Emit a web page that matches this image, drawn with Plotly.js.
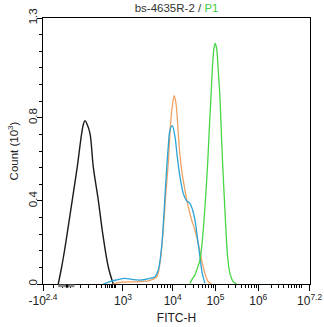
<!DOCTYPE html>
<html>
<head>
<meta charset="utf-8">
<script src="https://cdn.plot.ly/plotly-3.0.1.min.js"></script>
<style>html,body{margin:0;padding:0;background:#fff;}#chart{width:324px;height:327px;}</style>
</head>
<body>
<div id="chart"></div>
<script>
// x in display-decade units of the FITC-H axis, y in Count (10^3)
const blackX = [1.327,1.407,1.472,1.537,1.654,1.771,1.874,1.916,1.951,1.998,2.068,2.145,2.262,2.364,2.495,2.612];
const blackY = [0,0.083,0.16,0.245,0.404,0.564,0.725,0.77,0.786,0.77,0.725,0.564,0.404,0.245,0.083,0];

const blueX = [2.379,2.535,2.699,2.886,3.049,3.236,3.423,3.586,3.664,3.743,3.797,3.843,3.897,3.937,3.991,4.054,4.107,4.171,4.248,4.327,4.404,4.467,4.521,4.575,4.638,4.692,4.755];
const blueY = [0,0.012,0.02,0.027,0.022,0.019,0.025,0.035,0.067,0.18,0.34,0.50,0.66,0.74,0.762,0.709,0.613,0.516,0.436,0.40,0.388,0.356,0.308,0.228,0.131,0.051,0.003];

const orangeX = [2.605,2.769,3.002,3.236,3.470,3.626,3.703,3.780,3.836,3.897,3.953,3.991,4.037,4.077,4.117,4.154,4.210,4.287,4.364,4.444,4.521,4.598,4.678,4.755,4.832,4.911];
const orangeY = [0,0.008,0.01,0.011,0.018,0.035,0.10,0.26,0.42,0.58,0.773,0.853,0.906,0.87,0.773,0.66,0.549,0.452,0.372,0.308,0.26,0.196,0.115,0.051,0.011,0];

const greenX = [4.404,4.467,4.521,4.575,4.638,4.715,4.771,4.818,4.855,4.895,4.935,4.965,4.995,5.028,5.065,5.105,5.136,5.168,5.206,5.245,5.285,5.339,5.416,5.495];
const greenY = [0.003,0.027,0.043,0.075,0.115,0.26,0.42,0.58,0.74,0.90,1.06,1.133,1.158,1.133,1.03,0.90,0.74,0.58,0.42,0.26,0.131,0.051,0.011,0];

const xTickVals = [0.97,2.839,4,5,6,7.2];
const xTickText = ['-10<sup>2.4</sup>','10<sup>3</sup>','10<sup>4</sup>','10<sup>5</sup>','10<sup>6</sup>','10<sup>7.2</sup>'];
const yTickVals = [0,0.4,0.8,1.28];
const yTickText = ['0','0.4','0.8','1.3'];

// minor tick positions (axis decoration)
const minorX = [1.205,1.425,1.61,1.84,2.04,2.23,2.345,2.43,2.48,2.53,2.565,2.6,2.63,2.655];
for (let k=2;k<=9;k++) minorX.push(2.839 + 1.161*Math.log10(k));
for (let d=4; d<=6; d++) for (let k=2;k<=9;k++) minorX.push(d + Math.log10(k));
minorX.push(7);

const line = (x,y,c,w)=>({x:x,y:y,type:'scatter',mode:'lines',line:{color:c,width:w,shape:'spline',smoothing:1},hoverinfo:'skip'});

const data = [
  line(blackX,blackY,'#1a1a1a',1.4),
  line(orangeX,orangeY,'#f0a263',1.3),
  line(blueX,blueY,'#2ba3d6',1.3),
  line(greenX,greenY,'#46d646',1.3)
];

const layout = {
  width:324, height:327,
  margin:{l:43,r:14,t:18,b:43,pad:0},
  paper_bgcolor:'#fff', plot_bgcolor:'#fff',
  showlegend:false,
  font:{family:'"Liberation Sans", Arial, sans-serif', size:11, color:'#222'},
  title:{text:'bs-4635R-2 / <span style="color:#44cc44">P1</span>', x:0.545, xanchor:'center', y:0.975, yanchor:'middle', font:{size:11.5,color:'#333'}},
  xaxis:{
    range:[0.97,7.21], showgrid:false, zeroline:false,
    showline:true, linecolor:'#000', linewidth:1, mirror:true,
    tickmode:'array', tickvals:xTickVals, ticktext:xTickText,
    ticks:'outside', ticklen:6, tickcolor:'#000', tickwidth:1,
    tickfont:{size:12,color:'#222'},
    minor:{tickmode:'array', tickvals:minorX, ticks:'outside', ticklen:3, tickcolor:'#000', tickwidth:1, showgrid:false},
    title:{text:'FITC-H', standoff:6, font:{size:12,color:'#222'}}
  },
  yaxis:{
    range:[0,1.28], showgrid:false, zeroline:false,
    showline:true, linecolor:'#000', linewidth:1, mirror:true,
    tickmode:'array', tickvals:yTickVals, ticktext:yTickText,
    tickangle:-90, ticklabelstandoff:-5,
    ticks:'outside', ticklen:5, tickcolor:'#000', tickwidth:1,
    tickfont:{size:11.5,color:'#222'},
    minor:{dtick:0.08, tick0:0, ticks:'outside', ticklen:3, tickcolor:'#000', tickwidth:1, showgrid:false},
    title:{text:'Count (10<sup>3</sup>)', standoff:6, font:{size:11.5,color:'#222'}}
  },
  shapes:[
    {type:'rect', xref:'x', yref:'paper', x0:1.32, x1:1.705, y0:-0.012, y1:-0.002, fillcolor:'#888', line:{width:0}},
    {type:'rect', xref:'x', yref:'paper', x0:1.505, x1:1.56, y0:-0.014, y1:-0.002, fillcolor:'#000', line:{width:0}}
  ]
};

Plotly.newPlot('chart', data, layout, {staticPlot:true, displayModeBar:false});
</script>
</body>
</html>
